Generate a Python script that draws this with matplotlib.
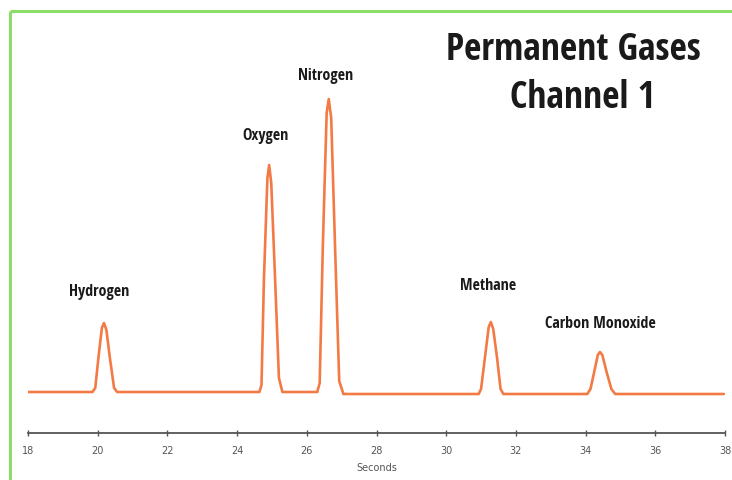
import matplotlib
matplotlib.use("Agg")
import matplotlib.pyplot as plt
from matplotlib.lines import Line2D

# ---- data ----
time_s = [18.00, 19.85,
          19.93, 20.02, 20.12, 20.18, 20.25, 20.35, 20.47, 20.56,
          24.64,
          24.70, 24.77, 24.87, 24.92, 24.98, 25.09, 25.20, 25.30,
          26.30,
          26.37, 26.46, 26.57, 26.63, 26.70, 26.81, 26.93, 27.05,
          30.93,
          31.00, 31.11, 31.22, 31.28, 31.35, 31.46, 31.56, 31.64,
          34.05,
          34.14, 34.24, 34.35, 34.41, 34.48, 34.61, 34.74, 34.85,
          37.97]
signal = [1, 1,
          5, 35, 65, 70, 63, 35, 5, 1,
          1,
          8, 114, 215, 228, 210, 114, 15, 1,
          1,
          10, 147, 280, 294, 275, 147, 12, -1,
          -1,
          4, 35, 66, 71, 64, 35, 4, -1,
          -1,
          4, 20, 38, 41, 38, 20, 4, -1,
          -1]

peak_names = ["Hydrogen", "Oxygen", "Nitrogen", "Methane", "Carbon Monoxide"]
peak_times = [20.18, 24.92, 26.63, 31.28, 34.41]
peak_heights = [70, 228, 294, 71, 41]

x_ticks = [18, 20, 22, 24, 26, 28, 30, 32, 34, 36, 38]
x_label = "Seconds"
title_lines = ["Permanent Gases", "Channel 1"]

# ---- figure ----
W, H = 732, 481
fig = plt.figure(figsize=(W / 100, H / 100), dpi=100)
fig.patch.set_facecolor("white")

ax = fig.add_axes([28 / W, 47 / H, (725 - 28) / W, (461 - 47) / H])
ax.set_xlim(18, 38)
ax.set_ylim(-40, 374)

ax.plot(time_s, signal, color="#f47a45", lw=1.9, solid_joinstyle="round",
        solid_capstyle="round")

cond = ["Open Sans Condensed", "IBM Plex Sans Condensed", "DejaVu Sans"]
label_font = dict(family=cond, fontweight="bold", fontsize=11.5,
                  color="#1a1a1a")
label_offsets = [32, 30, 24, 37, 29]
label_dx = [-0.15, -0.1, -0.1, -0.08, 0.02]
for name, t, h, off, dx in zip(peak_names, peak_times, peak_heights,
                               label_offsets, label_dx):
    ax.text(t + dx, h + off, name, ha="center", va="center", **label_font)

for s in ["left", "right", "top"]:
    ax.spines[s].set_visible(False)
ax.spines["bottom"].set_color("#555555")
ax.spines["bottom"].set_linewidth(1.3)
ax.set_yticks([])
ax.set_xticks(x_ticks)
ax.set_xticklabels([str(v) for v in x_ticks])
ax.tick_params(axis="x", direction="inout", length=4, width=1, color="#555555",
               labelsize=7, labelcolor="#555555", pad=7)
ax.set_xlabel(x_label, fontsize=7, color="#555555", labelpad=5)

title_font = dict(family=cond, fontweight="bold", fontsize=27,
                  color="#1a1a1a", ha="center", va="center")
fig.text(573 / W, 1 - 50 / H, title_lines[0], **title_font)
fig.text(583 / W, 1 - 98 / H, title_lines[1], **title_font)

# green frame (left and top)
green = "#8ddc6a"
fig.add_artist(Line2D([10 / W, 10 / W], [0, 1 - 12 / H], color=green, lw=2.2,
                      transform=fig.transFigure, solid_capstyle="butt"))
fig.add_artist(Line2D([10 / W, 1], [1 - 12 / H, 1 - 12 / H], color=green, lw=2.2,
                      transform=fig.transFigure, solid_capstyle="butt"))

fig.savefig("out.png", dpi=100)
